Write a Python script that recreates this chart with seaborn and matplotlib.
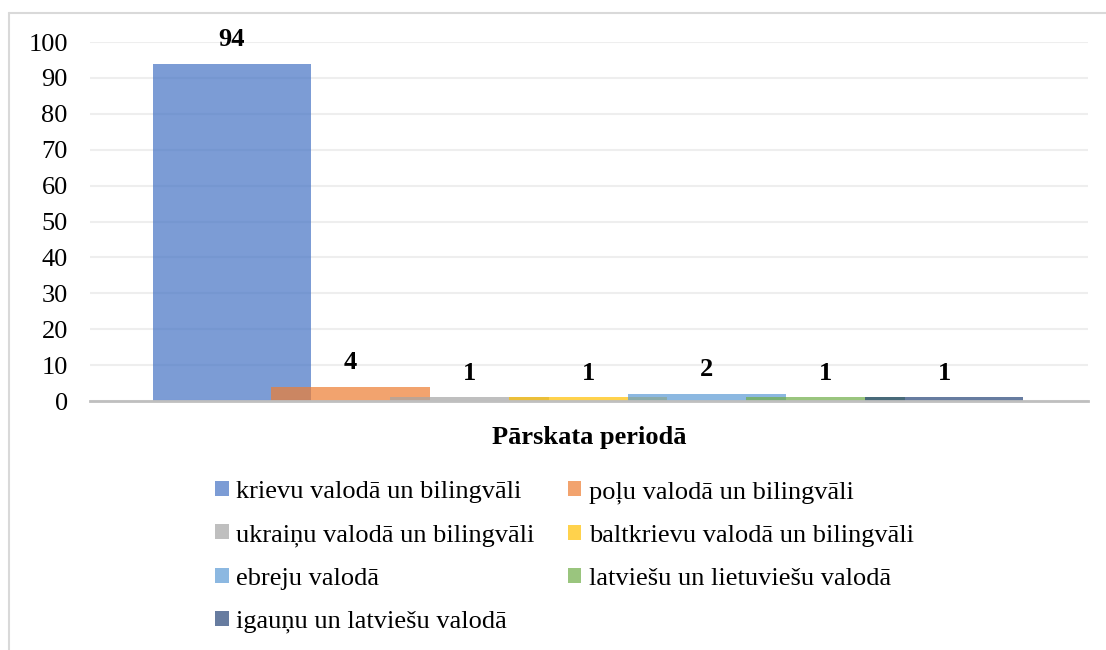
import pandas as pd
import seaborn as sns
import matplotlib.pyplot as plt
from matplotlib.patches import Patch
from matplotlib.lines import Line2D

# data
languages = ['krievu valodā un bilingvāli', 'poļu valodā un bilingvāli',
             'ukraiņu valodā un bilingvāli', 'baltkrievu valodā un bilingvāli',
             'ebreju valodā', 'latviešu un lietuviešu valodā',
             'igauņu un latviešu valodā']
counts = [94, 4, 1, 1, 2, 1, 1]
colors = ['#4472C4', '#ED7D31', '#A5A5A5', '#FFC000', '#5B9BD5', '#70AD47', '#264478']
period_label = 'Pārskata periodā'

df = pd.DataFrame({'language': languages, 'count': counts})

sns.set_style('white')
plt.rcParams['font.family'] = 'serif'
plt.rcParams['font.serif'] = ['Liberation Serif', 'DejaVu Serif']
plt.rcParams['text.color'] = 'black'
plt.rcParams['axes.labelcolor'] = 'black'
plt.rcParams['ytick.color'] = 'black'

fig = plt.figure(figsize=(11.06, 6.5), dpi=100)
ax = fig.add_axes([0.0814, 0.383, 0.9024, 0.5523])

sns.barplot(data=df, x='language', y='count', hue='language', palette=colors,
            dodge=False, width=1.335, alpha=0.7, linewidth=0, saturation=1,
            legend=False, ax=ax)

for cont in ax.containers:
    ax.bar_label(cont, fmt='%d', padding=9, fontsize=19, fontweight='bold', color='black')

ax.set_xlim(-1.196, 7.213)
ax.set_ylim(0, 100)
ax.set_yticks(range(0, 101, 10))
ax.set_xticks([])
ax.yaxis.grid(True, color='#EEEEEE', linewidth=1.5)
ax.set_axisbelow(True)
for s in ['top', 'right', 'left']:
    ax.spines[s].set_visible(False)
ax.spines['bottom'].set_color('#BFBFBF')
ax.spines['bottom'].set_linewidth(2)
ax.spines['bottom'].set_zorder(5)
ax.tick_params(axis='y', length=0, pad=16, labelsize=19, labelcolor='black')
ax.set_ylabel('')
ax.set_xlabel(period_label, fontsize=19, fontweight='bold', labelpad=18, color='black')

# legend, filled row by row like the original
handles = [Patch(facecolor=c, alpha=0.7, edgecolor='none') for c in colors]
order = [0, 2, 4, 6, 1, 3, 5]
fig.legend([handles[i] for i in order], [languages[i] for i in order],
           ncol=2, loc='upper left', bbox_to_anchor=(0.1947, 0.260),
           frameon=False, fontsize=19, handlelength=0.5, handleheight=0.5,
           handletextpad=0.3, columnspacing=1.25, labelspacing=0.8,
           borderaxespad=0, borderpad=0, labelcolor='black')

# chart frame
fig.add_artist(Line2D([8.5 / 1106, 8.5 / 1106], [0, 1 - 12.5 / 650], color='#D9D9D9', linewidth=1.5))
fig.add_artist(Line2D([8.5 / 1106, 1], [1 - 12.5 / 650, 1 - 12.5 / 650], color='#D9D9D9', linewidth=1.5))

fig.savefig('out.png', dpi=100)
